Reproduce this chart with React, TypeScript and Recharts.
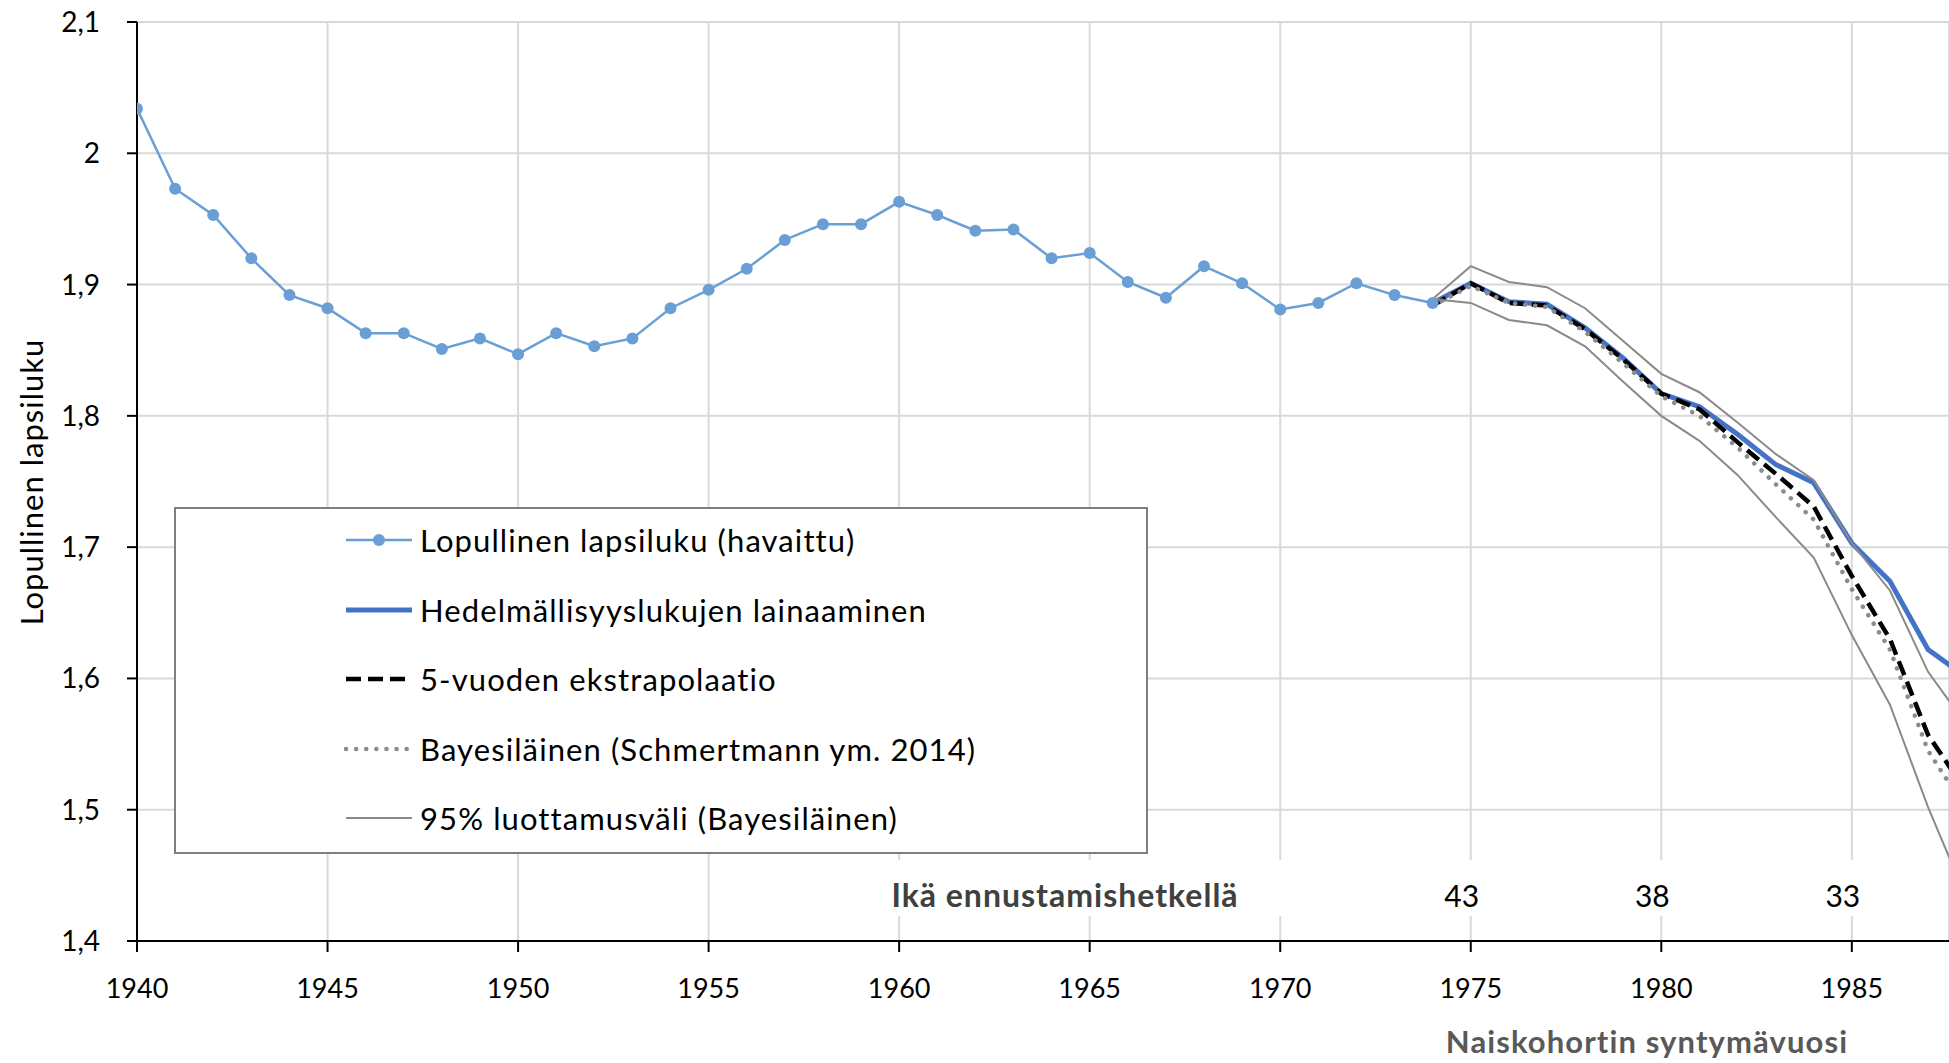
import React from 'react';
import {
  LineChart,
  Line,
  XAxis,
  YAxis,
  CartesianGrid,
  Legend,
  ReferenceDot,
  Customized,
} from 'recharts';

// ---------- data ----------
const observedYears = [
  1940, 1941, 1942, 1943, 1944, 1945, 1946, 1947, 1948, 1949,
  1950, 1951, 1952, 1953, 1954, 1955, 1956, 1957, 1958, 1959,
  1960, 1961, 1962, 1963, 1964, 1965, 1966, 1967, 1968, 1969,
  1970, 1971, 1972, 1973, 1974,
];
const observed = [
  2.034, 1.973, 1.953, 1.92, 1.892, 1.882, 1.863, 1.863, 1.851, 1.859,
  1.847, 1.863, 1.853, 1.859, 1.882, 1.896, 1.912, 1.934, 1.946, 1.946,
  1.963, 1.953, 1.941, 1.942, 1.92, 1.924, 1.902, 1.89, 1.914, 1.901,
  1.881, 1.886, 1.901, 1.892, 1.886,
];

const forecastYears = [
  1974, 1975, 1976, 1977, 1978, 1979, 1980, 1981, 1982, 1983, 1984, 1985, 1986, 1987, 1988,
];
const borrowing = [
  1.886, 1.901, 1.887, 1.885, 1.867, 1.844, 1.817, 1.807, 1.786, 1.763, 1.749, 1.703, 1.674, 1.622, 1.601,
];
const extrapolation = [
  1.884, 1.901, 1.886, 1.884, 1.866, 1.843, 1.817, 1.805, 1.78, 1.756, 1.731, 1.678, 1.63, 1.557, 1.514,
];
const bayesian = [
  1.884, 1.899, 1.886, 1.883, 1.864, 1.84, 1.815, 1.8, 1.776, 1.748, 1.721, 1.668, 1.622, 1.545, 1.5,
];
const ciUpper = [
  1.889, 1.914, 1.902, 1.898, 1.882, 1.857, 1.832, 1.818, 1.795, 1.771, 1.751, 1.703, 1.667, 1.605, 1.565,
];
const ciLower = [
  1.889, 1.886, 1.873, 1.869, 1.853, 1.826, 1.8, 1.781, 1.755, 1.723, 1.692, 1.633, 1.58, 1.502, 1.433,
];

const xTicks = [1940, 1945, 1950, 1955, 1960, 1965, 1970, 1975, 1980, 1985];
const yTicks = [1.4, 1.5, 1.6, 1.7, 1.8, 1.9, 2.0, 2.1];
const ageYears = [1975, 1980, 1985];
const ageLabels = ['43', '38', '33'];

const xTitle = 'Naiskohortin syntymävuosi';
const yTitle = 'Lopullinen lapsiluku';
const ageTitle = 'Ikä ennustamishetkellä';

// ---------- styling ----------
const FONT = 'Lato, "Open Sans", sans-serif';

type SeriesStyle = {
  key: string;
  name: string;
  color: string;
  width: number;
  dash?: string;
  cap?: 'round' | 'butt';
  marker?: boolean;
};

const SERIES: SeriesStyle[] = [
  { key: 'observed', name: 'Lopullinen lapsiluku (havaittu)', color: '#6a9fd6', width: 2.5, marker: true },
  { key: 'borrowing', name: 'Hedelmällisyyslukujen lainaaminen', color: '#4472c4', width: 5 },
  { key: 'extrapolation', name: '5-vuoden ekstrapolaatio', color: '#000000', width: 4.5, dash: '15 7' },
  { key: 'bayesian', name: 'Bayesiläinen (Schmertmann ym. 2014)', color: '#8c8c8c', width: 4.5, dash: '0.1 10', cap: 'round' },
  { key: 'ci', name: '95% luottamusväli (Bayesiläinen)', color: '#8a8a8a', width: 2 },
];

const styleOf = (k: string) => SERIES.find((s) => s.key === k)!;

// ---------- merged table ----------
const allYears = Array.from(new Set([...observedYears, ...forecastYears])).sort((a, b) => a - b);
const data = allYears.map((year) => {
  const row: Record<string, number> = { year };
  const i = observedYears.indexOf(year);
  if (i >= 0) row.observed = observed[i];
  const j = forecastYears.indexOf(year);
  if (j >= 0) {
    row.borrowing = borrowing[j];
    row.extrapolation = extrapolation[j];
    row.bayesian = bayesian[j];
    row.ciUpper = ciUpper[j];
    row.ciLower = ciLower[j];
  }
  return row;
});

const fmtY = (v: number) => String(Number(v.toFixed(1))).replace('.', ',');

// ---------- legend ----------
const LegendBox = () => (
  <div
    style={{
      boxSizing: 'border-box',
      width: 974,
      height: 347,
      border: '2px solid #7f7f7f',
      background: '#ffffff',
      position: 'relative',
      fontFamily: FONT,
    }}
  >
    {SERIES.map((s, i) => (
      <div
        key={s.key}
        style={{
          position: 'absolute',
          left: 168,
          top: 11 + i * 69.6,
          height: 40,
          display: 'flex',
          alignItems: 'center',
        }}
      >
        <svg width={70} height={40} style={{ display: 'block' }}>
          <line
            x1={2}
            x2={68}
            y1={20}
            y2={20}
            stroke={s.color}
            strokeWidth={s.width}
            strokeDasharray={s.dash}
            strokeLinecap={s.cap || 'butt'}
          />
          {s.marker && <circle cx={35} cy={20} r={6} fill={s.color} />}
        </svg>
        <span
          style={{
            marginLeft: 6,
            fontSize: 31,
            letterSpacing: 1.1,
            color: '#000',
            whiteSpace: 'nowrap',
            lineHeight: '40px',
          }}
        >
          {s.name}
        </span>
      </div>
    ))}
  </div>
);

// ---------- titles / annotations ----------
const YTitle = () => (
  <text
    x={31}
    y={482}
    transform="rotate(-90 31 482)"
    textAnchor="middle"
    dominantBaseline="central"
    fontSize={31}
    letterSpacing={1}
    fill="#000"
    fontFamily={FONT}
  >
    {yTitle}
  </text>
);

const XTitle = () => (
  <text
    x={1647}
    y={1041}
    textAnchor="middle"
    dominantBaseline="central"
    fontSize={31}
    letterSpacing={1.1}
    fontWeight={700}
    fill="#595959"
    fontFamily={FONT}
  >
    {xTitle}
  </text>
);

const AgeBox = () => (
  <g>
    <rect x={880} y={860} width={1010} height={56} fill="#ffffff" />
    <text
      x={1065}
      y={894}
      textAnchor="middle"
      dominantBaseline="central"
      fontSize={32}
      letterSpacing={1}
      fontWeight={700}
      fill="#404040"
      fontFamily={FONT}
    >
      {ageTitle}
    </text>
  </g>
);

const AgeLabel = (props: any) => {
  const vb = props.viewBox || {};
  return (
    <text
      x={(vb.x || 0) + (vb.width || 0) / 2 - 9}
      y={(vb.y || 0) + (vb.height || 0) / 2}
      textAnchor="middle"
      dominantBaseline="central"
      fontSize={30}
      fill="#000"
      fontFamily={FONT}
    >
      {props.value}
    </text>
  );
};

export default function App() {
  return (
    <div style={{ position: 'absolute', left: 0, top: 0, width: 1949, height: 1063, background: '#fff' }}>
      <LineChart
        width={1949}
        height={1063}
        data={data}
        margin={{ top: 22, right: 0, bottom: 0, left: 0 }}
        style={{ fontFamily: FONT }}
      >
        <CartesianGrid stroke="#d9d9d9" strokeWidth={2} />
        <XAxis
          dataKey="year"
          type="number"
          domain={[1940, 1987.55]}
          allowDataOverflow
          ticks={xTicks}
          interval={0}
          height={122}
          tickSize={11}
          tickMargin={27}
          axisLine={{ stroke: '#000', strokeWidth: 2 }}
          tickLine={{ stroke: '#000', strokeWidth: 2 }}
          tick={{ fill: '#000', fontSize: 27, fontFamily: FONT }}
          label={{ content: XTitle }}
        />
        <YAxis
          type="number"
          domain={[1.4, 2.1]}
          ticks={yTicks}
          interval={0}
          width={137}
          tickSize={10}
          tickMargin={27}
          tickFormatter={fmtY}
          axisLine={{ stroke: '#000', strokeWidth: 2 }}
          tickLine={{ stroke: '#000', strokeWidth: 2 }}
          tick={{ fill: '#000', fontSize: 28, fontFamily: FONT }}
          label={{ content: YTitle }}
        />
        <Line
          dataKey="observed"
          name={styleOf('observed').name}
          stroke={styleOf('observed').color}
          strokeWidth={styleOf('observed').width}
          dot={{ r: 6, fill: styleOf('observed').color, stroke: styleOf('observed').color, strokeWidth: 0 }}
          activeDot={false}
          isAnimationActive={false}
        />
        <Line
          dataKey="borrowing"
          name={styleOf('borrowing').name}
          stroke={styleOf('borrowing').color}
          strokeWidth={styleOf('borrowing').width}
          dot={false}
          activeDot={false}
          isAnimationActive={false}
        />
        <Line
          dataKey="extrapolation"
          name={styleOf('extrapolation').name}
          stroke={styleOf('extrapolation').color}
          strokeWidth={styleOf('extrapolation').width}
          strokeDasharray={styleOf('extrapolation').dash}
          dot={false}
          activeDot={false}
          isAnimationActive={false}
        />
        <Line
          dataKey="bayesian"
          name={styleOf('bayesian').name}
          stroke={styleOf('bayesian').color}
          strokeWidth={styleOf('bayesian').width}
          strokeDasharray={styleOf('bayesian').dash}
          strokeLinecap="round"
          dot={false}
          activeDot={false}
          isAnimationActive={false}
        />
        <Line
          dataKey="ciUpper"
          name={styleOf('ci').name}
          stroke={styleOf('ci').color}
          strokeWidth={styleOf('ci').width}
          dot={false}
          activeDot={false}
          isAnimationActive={false}
        />
        <Line
          dataKey="ciLower"
          name={styleOf('ci').name}
          stroke={styleOf('ci').color}
          strokeWidth={styleOf('ci').width}
          dot={false}
          activeDot={false}
          isAnimationActive={false}
          legendType="none"
        />
        <Customized component={AgeBox} />
        {ageYears.map((yr, i) => (
          <ReferenceDot
            key={yr}
            x={yr}
            y={1.435}
            r={0}
            fill="none"
            stroke="none"
            ifOverflow="visible"
            label={{ value: ageLabels[i], content: AgeLabel }}
          />
        ))}
        <Legend
          layout="horizontal"
          verticalAlign="middle"
          align="center"
          wrapperStyle={{ left: 174, top: 507, width: 974, height: 347 }}
          content={LegendBox}
        />
      </LineChart>
    </div>
  );
}
